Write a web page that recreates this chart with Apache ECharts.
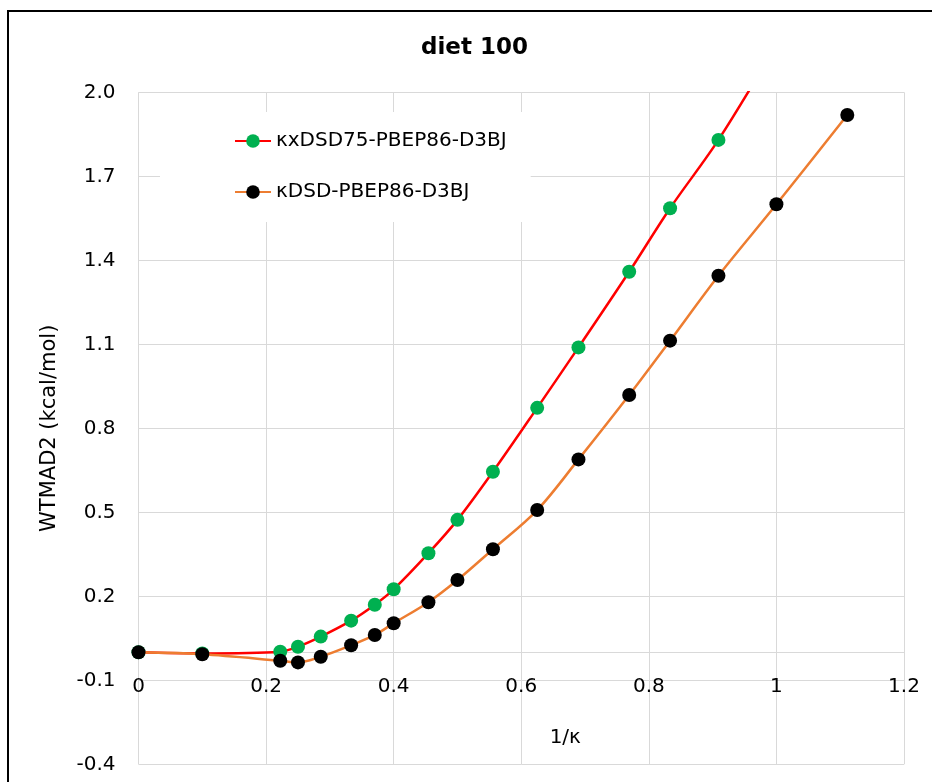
<!DOCTYPE html>
<html>
<head>
<meta charset="utf-8">
<script src="https://cdn.jsdelivr.net/npm/echarts@6/dist/echarts.min.js"></script>
<style>
html,body{margin:0;padding:0;background:#fff;}
#chart{width:932px;height:782px;}
</style>
</head>
<body>
<div id="chart"></div>
<script>
// ---- data ----
const invKappa = [0, 0.1, 0.2222, 0.25, 0.2857, 0.3333, 0.3704, 0.4, 0.4545, 0.5, 0.5556, 0.625, 0.6897, 0.7692, 0.8333, 0.9091, 1.0, 1.1111];
const kxDSD75 = [0.000, -0.004, 0.002, 0.020, 0.056, 0.113, 0.170, 0.225, 0.354, 0.473, 0.645, 0.873, 1.089, 1.359, 1.586, 1.830, 2.170, null];
const kDSD = [0.000, -0.007, -0.030, -0.036, -0.016, 0.025, 0.062, 0.104, 0.179, 0.258, 0.368, 0.508, 0.689, 0.919, 1.113, 1.345, 1.600, 1.919];
const seriesNames = ['κxDSD75-PBEP86-D3BJ', 'κDSD-PBEP86-D3BJ'];
const xTicks = [0, 0.2, 0.4, 0.6, 0.8, 1, 1.2];
const yTicks = [-0.4, -0.1, 0.2, 0.5, 0.8, 1.1, 1.4, 1.7, 2.0];

function pairs(xs, ys) {
  const out = [];
  for (let i = 0; i < xs.length; i++) if (ys[i] !== null) out.push([xs[i], ys[i]]);
  return out;
}

const FONT = 'DejaVu Sans';
const GRID_TOP = 92.3, GRID_BOTTOM = 17.7, H = 782;
const yMin = yTicks[0], yMax = yTicks[yTicks.length - 1];
const plotH = H - GRID_TOP - GRID_BOTTOM;
// shift the x axis up so that it sits on the value 0 of the y axis
const xAxisOffset = -plotH * (0 - yMin) / (yMax - yMin);

const chart = echarts.init(document.getElementById('chart'));
chart.setOption({
  animation: false,
  backgroundColor: '#fff',
  title: {
    text: 'diet 100',
    left: 416,
    top: 32,
    padding: 5,
    textStyle: { fontFamily: FONT, fontSize: 23, fontWeight: 'bold', color: '#000' }
  },
  graphic: [{
    type: 'rect',
    shape: { x: 8, y: 11, width: 1000, height: 1000 },
    style: { fill: null, stroke: '#000', lineWidth: 2 },
    silent: true
  }],
  legend: {
    orient: 'vertical',
    left: 160,
    top: 112,
    padding: [19, 24, 20, 74],
    itemGap: 31,
    itemWidth: 36,
    itemHeight: 17,
    backgroundColor: '#fff',
    textStyle: { fontFamily: FONT, fontSize: 20, color: '#000' },
    data: seriesNames
  },
  grid: { left: 138.5, right: 28, top: GRID_TOP, bottom: GRID_BOTTOM, containLabel: false, outerBoundsMode: 'none' },
  xAxis: {
    type: 'value',
    min: xTicks[0],
    max: xTicks[xTicks.length - 1],
    interval: 0.2,
    offset: xAxisOffset,
    name: '1/κ',
    nameLocation: 'middle',
    nameGap: 75,
    nameTextStyle: { fontFamily: FONT, fontSize: 20, color: '#000', padding: [0, 0, 0, 88] },
    axisLine: { show: true, onZero: false, lineStyle: { color: '#D9D9D9', width: 1 } },
    axisTick: { show: false },
    axisLabel: { margin: 24, fontFamily: FONT, fontSize: 20, color: '#000',
      formatter: v => String(+v.toFixed(1)) },
    splitLine: { show: true, lineStyle: { color: '#D9D9D9', width: 1 } }
  },
  yAxis: {
    type: 'value',
    min: yMin,
    max: yMax,
    interval: 0.3,
    name: 'WTMAD2 (kcal/mol)',
    nameLocation: 'middle',
    nameGap: 78,
    nameTextStyle: { fontFamily: FONT, fontSize: 21, color: '#000' },
    axisLine: { show: false, onZero: false },
    axisTick: { show: false },
    axisLabel: { margin: 23, fontFamily: FONT, fontSize: 20, color: '#000',
      formatter: v => v.toFixed(1) },
    splitLine: { show: true, lineStyle: { color: '#D9D9D9', width: 1 } }
  },
  series: [
    {
      name: seriesNames[0],
      type: 'line',
      smooth: 0.33,
      data: pairs(invKappa, kxDSD75),
      symbol: 'circle',
      symbolSize: 14,
      itemStyle: { color: '#00B050' },
      lineStyle: { color: '#FF0000', width: 2.5 },
      emphasis: { disabled: true },
      clip: true,
      z: 2
    },
    {
      name: seriesNames[1],
      type: 'line',
      smooth: 0.33,
      data: pairs(invKappa, kDSD),
      symbol: 'circle',
      symbolSize: 14,
      itemStyle: { color: '#000000' },
      lineStyle: { color: '#ED7D31', width: 2.5 },
      emphasis: { disabled: true },
      clip: true,
      z: 3
    }
  ]
});
</script>
</body>
</html>
